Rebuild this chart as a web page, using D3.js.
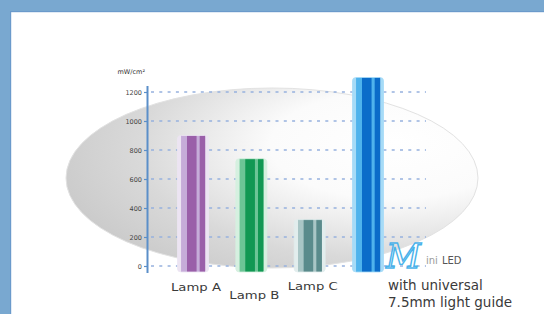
<!DOCTYPE html>
<html><head><meta charset="utf-8">
<script src="https://cdn.jsdelivr.net/npm/d3@7/dist/d3.min.js"></script>
<style>html,body{margin:0;padding:0;background:#fff;}svg{display:block;}</style>
</head><body>
<script>
// ---- data ----
const categories = ["Lamp A", "Lamp B", "Lamp C", "Mini LED"];
const values = [900, 740, 320, 1300];
const tickValues = [0, 200, 400, 600, 800, 1000, 1200];
const unitLabel = "mW/cm²";
const miniCaption = ["with universal", "7.5mm light guide"];

// ---- styles ----
const palettes = [
  {pale:"#ece4f2", light:"#c6acd9", dark:"#9a5fa9"},
  {pale:"#d6f0e0", light:"#6cc596", dark:"#119853"},
  {pale:"#e2eded", light:"#a9c6c6", dark:"#5a8b8c"},
  {pale:"#a6dbf7", light:"#4fb3ec", dark:"#0b6cc9"}
];

const W = 544, H = 314;
const svg = d3.select("body").append("svg").attr("width", W).attr("height", H);
const defs = svg.append("defs");

// frame
svg.append("rect").attr("x",0).attr("y",0).attr("width",W).attr("height",12).attr("fill","#79a8d0");
svg.append("rect").attr("x",0).attr("y",0).attr("width",11).attr("height",H).attr("fill","#79a8d0");
svg.append("rect").attr("x",11).attr("y",11).attr("width",W-11).attr("height",1.2).attr("fill","#6b9acb");
svg.append("rect").attr("x",10).attr("y",11).attr("width",1.2).attr("height",H).attr("fill","#6b9acb");

// background ellipse
const rg = defs.append("radialGradient").attr("id","ellg")
  .attr("cx","0.78").attr("cy","0.35").attr("r","0.85").attr("fx","0.8").attr("fy","0.3");
rg.append("stop").attr("offset","0").attr("stop-color","#ffffff");
rg.append("stop").attr("offset","0.35").attr("stop-color","#fbfbfb");
rg.append("stop").attr("offset","0.72").attr("stop-color","#d9d9d9");
rg.append("stop").attr("offset","1").attr("stop-color","#c9c9c9");
svg.append("ellipse").attr("cx",272).attr("cy",178).attr("rx",206).attr("ry",90)
  .attr("fill","url(#ellg)").attr("stroke","#e2e2e2").attr("stroke-width",1);

// scales
const y = d3.scaleLinear().domain([0,1200]).range([266,92]);
const x = d3.scalePoint().domain(categories).range([193,368]);
const barW = 31;

// gridlines
svg.append("g").selectAll("line").data(tickValues).join("line")
  .attr("x1",151).attr("x2",426)
  .attr("y1",d=>y(d)).attr("y2",d=>y(d))
  .attr("stroke","#96b1de").attr("stroke-width",1.4)
  .attr("stroke-dasharray","3,5.3");

// axis
const axis = d3.axisLeft(y).tickValues(tickValues).tickFormat(d3.format("d")).tickSize(3).tickPadding(2);
const ag = svg.append("g").attr("transform","translate(147,0)").call(axis);
ag.select(".domain").remove();
ag.selectAll(".tick line").attr("stroke","#5b8fc9").attr("stroke-width",1.2);
ag.selectAll(".tick text").attr("font-family","DejaVu Sans").attr("font-size",6.5)
  .attr("fill","#444");
svg.append("line").attr("x1",147.5).attr("x2",147.5).attr("y1",86).attr("y2",273)
  .attr("stroke","#5b8fc9").attr("stroke-width",2);
svg.append("text").attr("x",145).attr("y",74).attr("text-anchor","end")
  .attr("font-family","DejaVu Sans").attr("font-size",6.5).attr("fill","#333")
  .text(unitLabel);

// bar gradients
palettes.forEach((p,i)=>{
  const g = defs.append("linearGradient").attr("id","bg"+i).attr("x1",0).attr("x2",1).attr("y1",0).attr("y2",0);
  [[0,p.pale],[0.11,p.pale],[0.13,p.light],[0.29,p.light],[0.32,p.dark],[0.6,p.dark],[0.63,p.light],[0.7,p.light],[0.73,p.dark],[0.88,p.dark],[0.91,p.pale],[1,p.pale]]
    .forEach(s=>g.append("stop").attr("offset",s[0]).attr("stop-color",s[1]));
});

// bars
const data = categories.map((c,i)=>({c, v:values[i], i}));
svg.append("g").selectAll("rect").data(data).join("rect")
  .attr("x",d=>x(d.c)-barW/2).attr("width",barW)
  .attr("y",d=>y(d.v)).attr("height",d=>y(0)+6-y(d.v))
  .attr("rx",4).attr("ry",3)
  .attr("fill",d=>"url(#bg"+d.i+")")
  .attr("stroke",d=>palettes[d.i].pale).attr("stroke-width",0.8);

// category labels (first three)
const labelDy = [25, 33, 24];
svg.append("g").selectAll("text").data(data.slice(0,3)).join("text")
  .attr("x",d=>x(d.c)+3).attr("y",(d,i)=>y(0)+labelDy[i])
  .attr("text-anchor","middle").attr("font-family","DejaVu Sans")
  .attr("font-size",11).attr("fill","#3a3a3a")
  .attr("textLength",50).attr("lengthAdjust","spacingAndGlyphs")
  .text(d=>d.c);

// Mini LED logo + caption
const mx = x(categories[3]) + 20;
svg.append("text").attr("x",mx-2).attr("y",268)
  .attr("font-family","DejaVu Serif").attr("font-style","italic").attr("font-size",34)
  .attr("fill","none").attr("stroke","#4ab2ea").attr("stroke-width",1.4)
  .text(categories[3].slice(0,1));
const rest = svg.append("text").attr("x",mx+38).attr("y",264)
  .attr("font-family","DejaVu Sans").attr("font-size",10).attr("fill","#9a9a9a");
rest.append("tspan").text(categories[3].slice(1,4));
rest.append("tspan").attr("dx",4).attr("fill","#555").text(categories[3].slice(5));
svg.append("g").selectAll("text").data(miniCaption).join("text")
  .attr("x",mx).attr("y",(d,i)=>290+i*17)
  .attr("font-family","DejaVu Sans").attr("font-size",13.5).attr("fill","#3a3a3a")
  .text(d=>d);
</script>
</body></html>
